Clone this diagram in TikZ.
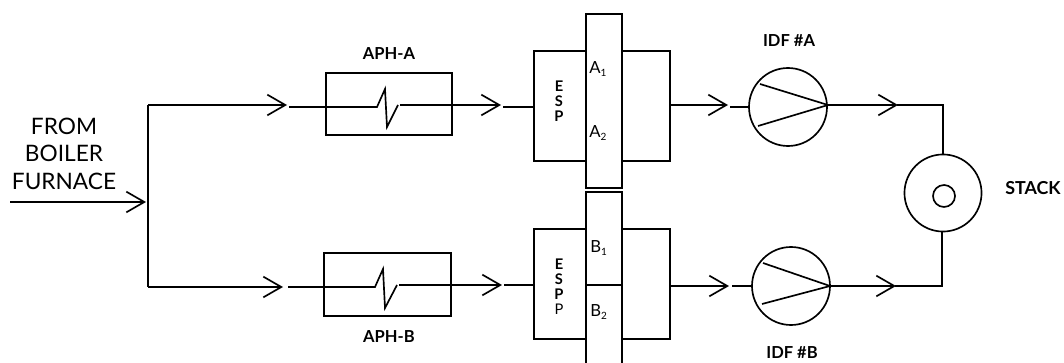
\documentclass[tikz,border=0pt]{standalone}
\usepackage{fontspec}
\setmainfont{Lato}
\usetikzlibrary{arrows.meta}
\tikzset{
  ln/.style={line width=1.25pt,black},
  flow/.style={ln,-{Straight Barb[length=13.5pt,width=15.5pt,line width=1.25pt]}},
  shell/.style={draw,line width=1.25pt,rectangle,inner sep=0pt},
  fan/.style={draw,line width=1.25pt,circle,inner sep=0pt,minimum size=58.5pt},
  tag/.style={font=\bfseries\fontsize{12.4}{14}\selectfont,inner sep=0pt},
  esp/.style={font=\bfseries\fontsize{11}{11.25}\selectfont,inner sep=0pt,align=center},
  sect/.style={font=\fontsize{12.5}{14}\selectfont,inner sep=0pt,anchor=base west},
  lbl/.style={font=\fontsize{17}{18}\selectfont,inner sep=0pt},
}
\newcommand{\sbs}[1]{\textsubscript{\fontsize{7.5}{8}\selectfont #1}}
\begin{document}
\begin{tikzpicture}[x=0.75pt,y=-0.75pt]
\useasboundingbox (0,0) rectangle (1064,363);
% junction coordinates
\coordinate (feed) at (10,202);
\coordinate (feedtip) at (146,202);
\coordinate (jt) at (148,105);
\coordinate (jb) at (148,287);
% labels
\node[lbl] (from) at (64,126) {FROM};
\node[lbl] (boiler) at (64,153) {BOILER};
\node[lbl] (furnace) at (64,181) {FURNACE};
\node[tag] (apha) at (389,54) {APH-A};
\node[tag] (aphb) at (389,337) {APH-B};
\node[tag] (idfa) at (789,41) {IDF \#A};
\node[tag] (idfb) at (792,353) {IDF \#B};
\node[tag,font=\bfseries\fontsize{13.4}{14}\selectfont] (stacklbl) at (1033,188) {STACK};
% APH boxes
\node[shell,minimum width=94.7pt,minimum height=46.5pt] (boxa) at (389,104) {};
\node[shell,minimum width=95pt,minimum height=47pt] (boxb) at (387.5,284.5) {};
% ESP A
\node[shell,minimum width=39pt,minimum height=82.5pt] (ea) at (560,106) {};
\node[shell,minimum width=36pt,minimum height=82.5pt] (ra) at (646,106) {};
\node[shell,fill=white,minimum width=27pt,minimum height=130.5pt] (ca) at (604,101) {};
% ESP B
\node[shell,minimum width=39pt,minimum height=82.5pt] (eb) at (560,284) {};
\node[shell,minimum width=36pt,minimum height=82.5pt] (rb) at (646,284) {};
\draw[ln,fill=white] (586,370) -- (586,192) -- (622,192) -- (622,370);
\coordinate (cbl) at (586,285);
\coordinate (cbr) at (622,285);
\draw[ln] (cbl) -- (cbr);
\draw[line width=1.8pt] (586,95) -- (586,111) (622,95) -- (622,111) (586,274) -- (586,290) (622,274) -- (622,290);
\node[esp] (espa) at (559,101) {E\\S\\P};
\node[esp,anchor=north] (espb) at (559,259) {E\\S\\P\\\mdseries P};
\node[sect] (a1) at (589,74) {A\sbs{1}};
\node[sect] (a2) at (589,138) {A\sbs{2}};
\node[sect] (b1) at (590,253) {B\sbs{1}};
\node[sect] (b2) at (590,317) {B\sbs{2}};
% fans
\node[fan] (fana) at (788,107) {};
\node[fan] (fanb) at (791,286) {};
\coordinate (fata) at (828,105);
\coordinate (fatb) at (830,286);
\draw[ln,line join=miter] (760,84) -- (fata) -- (758,126);
\draw[ln,line join=miter] (763,263) -- (fatb) -- (762,304);
% stack
\node[fan,minimum size=57.8pt] (stack) at (943,193) {};
\node[draw,line width=1.25pt,circle,inner sep=0pt,minimum size=16.5pt] (flue) at (944,196) {};
% feed and trunk
\draw[flow] (feed) -- (feedtip);
\draw[ln] (jt) -- (jb);
\draw[flow] (jt) -- (287,105);
\draw[flow] (jb) -- (283,287);
% APH-A line
\coordinate (aphain) at (289,107);
\coordinate (aphaout) at (400,105);
\draw[ln] (aphain) -- (377,107) -- (385,89) -- (387,127) -- (398,105);
\draw[flow] (aphaout) -- (501,105);
\draw[ln] (503,107) -- (ea.west |- 0,107);
% APH-B line
\coordinate (aphbin) at (288,287);
\coordinate (aphbout) at (399,285);
\draw[ln] (aphbin) -- (375,287) -- (383,269) -- (385,308) -- (397,285);
\draw[flow] (aphbout) -- (502,285);
\draw[ln] (504,285) -- (eb.west |- 0,285);
% ESP outlets
\draw[flow] (ra.east |- 0,105) -- (728,105);
\draw[ln] (730,107) -- (fana.west);
\draw[flow] (rb.east |- 0,286) -- (729,286);
\draw[ln] (732,286) -- (fanb.west);
% fan to stack
\draw[flow] (fata) -- (898,105);
\draw[ln] (897,105) -- (stack.north |- 0,105) -- (stack.north);
\draw[flow] (fatb) -- (896,286);
\draw[ln] (895,286) -- (942,286) -- (942,232);
\end{tikzpicture}
\end{document}
